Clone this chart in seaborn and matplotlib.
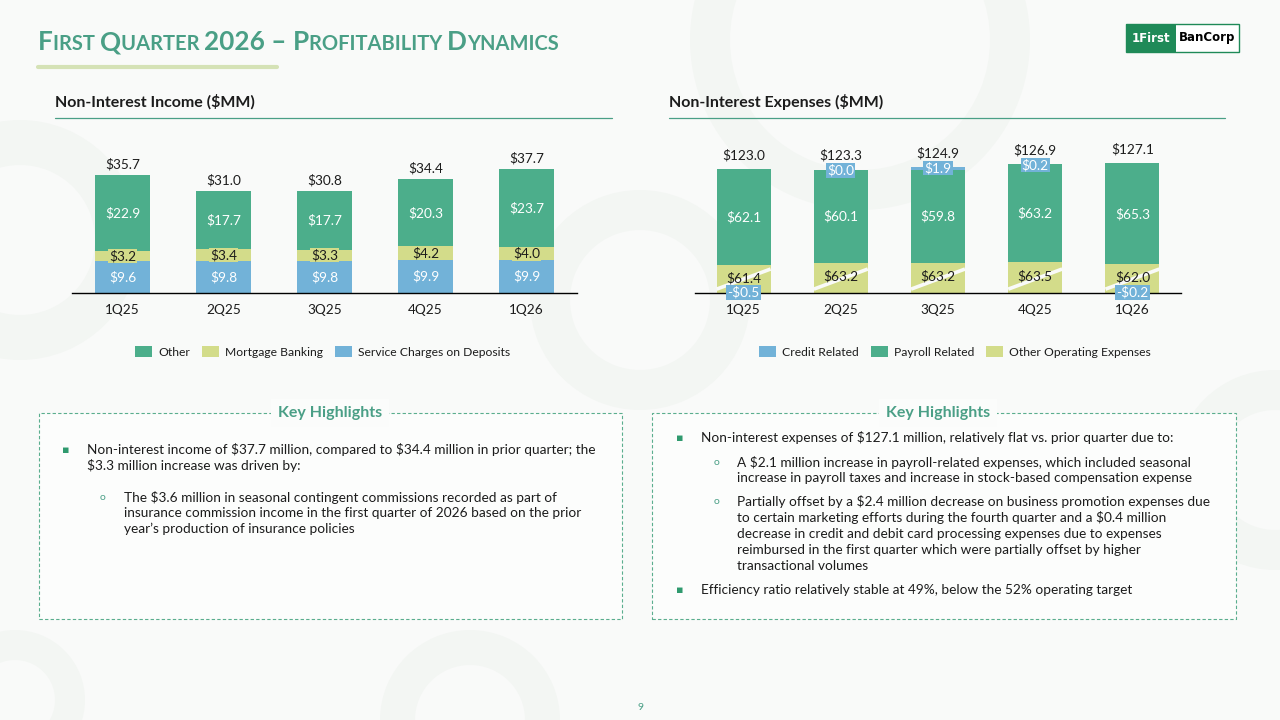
import numpy as np
import matplotlib
matplotlib.use("Agg")
import matplotlib.pyplot as plt
import matplotlib.patches as mpatches
from matplotlib.lines import Line2D
import seaborn as sns

quarters = ["1Q25", "2Q25", "3Q25", "4Q25", "1Q26"]

# Non-interest income ($MM)
service_charges = [9.6, 9.8, 9.8, 9.9, 9.9]
mortgage_banking = [3.2, 3.4, 3.3, 4.2, 4.0]
other_income = [22.9, 17.7, 17.7, 20.3, 23.7]
income_totals = [35.7, 31.0, 30.8, 34.4, 37.7]

# Non-interest expenses ($MM)
other_operating = [61.4, 63.2, 63.2, 63.5, 62.0]
payroll_related = [62.1, 60.1, 59.8, 63.2, 65.3]
credit_related = [-0.5, 0.0, 1.9, 0.2, -0.2]
expense_totals = [123.0, 123.3, 124.9, 126.9, 127.1]

# the expense chart has a broken axis in the bottom segment
BREAK = 43.5

GREEN = "#4cae8b"
YELLOW = "#d3dc8a"
BLUE = "#72b2d8"
TEAL = "#4a9f86"
BG = "#f9faf9"
TXT = "#1c1c1c"

sns.set_theme(style="white")
plt.rcParams["font.family"] = ["Lato", "DejaVu Sans"]
plt.rcParams["text.parse_math"] = False


def fx(x):
    return x / 1280


def fy(y):
    return 1 - y / 720


fig = plt.figure(figsize=(12.8, 7.2), dpi=100, facecolor=BG)

# faint decorative rings in the background
for cx, cy, r, w in [(20, 240, 120, 45), (640, 300, 110, 40), (1275, 470, 100, 40),
                     (15, 700, 70, 30), (470, 720, 90, 35), (860, 40, 170, 40)]:
    ring = mpatches.Annulus((cx / 100, (720 - cy) / 100), r / 100, w / 100,
                            transform=fig.dpi_scale_trans, facecolor="#f3f6f3",
                            edgecolor="none", zorder=-5)
    fig.add_artist(ring)

# ---- title in small caps ----
renderer = fig.canvas.get_renderer()
big, small = 18.8, 14.5
pieces = [("F", big), ("IRST ", small), ("Q", big), ("UARTER ", small), ("2026 \u2013 ", big),
          ("P", big), ("ROFITABILITY ", small), ("D", big), ("YNAMICS", small)]
xpos = fx(38)
for s, size in pieces:
    t = fig.text(xpos, fy(50), s, fontsize=size, color=TEAL, fontweight="bold",
                 ha="left", va="baseline")
    bb = t.get_window_extent(renderer=renderer)
    xpos += bb.width / 1280
fig.add_artist(Line2D([fx(38), fx(277)], [fy(67), fy(67)], color="#d5e2b6", lw=3,
                      transform=fig.transFigure))

# ---- logo ----
fig.add_artist(mpatches.Rectangle((fx(1126), fy(52)), fx(113), 28 / 720, transform=fig.transFigure,
                                  facecolor="white", edgecolor="#1f8a58", lw=1))
fig.add_artist(mpatches.Rectangle((fx(1126), fy(52)), fx(50), 28 / 720, transform=fig.transFigure,
                                  facecolor="#1f8a58", edgecolor="none"))
fig.text(fx(1151), fy(38), "1First", color="white", fontsize=8.5, fontweight="bold",
         family="DejaVu Sans", ha="center", va="center")
fig.text(fx(1207), fy(38), "BanCorp", color="black", fontsize=8.5, fontweight="bold",
         family="DejaVu Sans", ha="center", va="center")

# ---- section headers ----
for x0, x1, label in [(55, 612, "Non-Interest Income ($MM)"), (669, 1225, "Non-Interest Expenses ($MM)")]:
    fig.text(fx(x0), fy(102), label, fontsize=11.5, fontweight="bold", color=TXT, va="center")
    fig.add_artist(Line2D([fx(x0), fx(x1)], [fy(118), fy(118)], color=TEAL, lw=0.9,
                          transform=fig.transFigure))


def style_axis(ax, ymax):
    ax.set_facecolor("none")
    ax.set_xlim(-0.5, 4.5)
    ax.set_ylim(0, ymax)
    ax.set(xlabel="", ylabel="")
    ax.set_yticks([])
    for side in ["top", "left", "right"]:
        ax.spines[side].set_visible(False)
    ax.spines["bottom"].set_color("black")
    ax.spines["bottom"].set_linewidth(1)
    ax.tick_params(axis="x", length=0, pad=8, labelsize=9.8, labelcolor=TXT)


LBL = 9.8

# ---- left chart: non-interest income ----
ax1 = fig.add_axes([fx(72), fy(293), fx(505), 153 / 720])
svc = np.array(service_charges)
mort = np.array(mortgage_banking)
oth = np.array(other_income)
for vals, col in [(svc + mort + oth, GREEN), (svc + mort, YELLOW), (svc, BLUE)]:
    sns.barplot(x=quarters, y=vals, color=col, width=0.55, saturation=1, linewidth=0,
                errorbar=None, ax=ax1)
style_axis(ax1, 153 / 3.3)
for i in range(len(quarters)):
    ax1.text(i, svc[i] / 2, f"${svc[i]:.1f}", ha="center", va="center", color="white", fontsize=LBL)
    ax1.text(i, svc[i] + mort[i] / 2, f"${mort[i]:.1f}", ha="center", va="center", color=TXT,
             fontsize=LBL, bbox=dict(facecolor=YELLOW, edgecolor="none", pad=0.4))
    ax1.text(i, svc[i] + mort[i] + oth[i] / 2, f"${oth[i]:.1f}", ha="center", va="center",
             color="white", fontsize=LBL)
    ax1.annotate(f"${income_totals[i]:.1f}", (i, svc[i] + mort[i] + oth[i]), xytext=(0, 3.5),
                 textcoords="offset points", ha="center", va="bottom", color=TXT, fontsize=LBL)

# ---- right chart: non-interest expenses ----
ax2 = fig.add_axes([fx(695), fy(293), fx(486), 153 / 720])
oo = np.array(other_operating) - BREAK
pay = np.array(payroll_related)
cred = np.array(credit_related)
stack_top = oo + pay + np.clip(cred, 0, None)
for vals, col in [(stack_top, BLUE), (oo + pay, GREEN), (oo, YELLOW)]:
    sns.barplot(x=quarters, y=vals, color=col, width=0.555, saturation=1, linewidth=0,
                errorbar=None, ax=ax2)
style_axis(ax2, 153 / 1.546)
for i in range(len(quarters)):
    # break marker through the truncated bottom segment
    ax2.plot([i - 0.2775, i + 0.2775], [2.5, 15.5], color=BG, lw=2.6,
             solid_capstyle="butt", zorder=3)
    ax2.text(i, oo[i] / 2 + 0.8, f"${other_operating[i]:.1f}", ha="center", va="center",
             color=TXT, fontsize=LBL, zorder=4)
    ax2.text(i, oo[i] + pay[i] / 2, f"${pay[i]:.1f}", ha="center", va="center",
             color="white", fontsize=LBL, zorder=4)
    if cred[i] < 0:
        ypos, lab = 0.4, f"-${abs(cred[i]):.1f}"
    else:
        ypos, lab = stack_top[i] - 0.6, f"${cred[i]:.1f}"
    ax2.text(i, ypos, lab, ha="center", va="center", color="white", fontsize=LBL, zorder=5,
             bbox=dict(facecolor=BLUE, edgecolor="none", pad=0.8), clip_on=False)
    ax2.annotate(f"${expense_totals[i]:.1f}", (i, stack_top[i]), xytext=(0, 5.5),
                 textcoords="offset points", ha="center", va="bottom", color=TXT, fontsize=LBL)

# ---- legends ----
def patch(c):
    return mpatches.Patch(facecolor=c, edgecolor="none")


leg_kw = dict(loc="center", ncol=3, frameon=False, fontsize=8.7, handlelength=1.4,
              handleheight=1.05, handletextpad=0.5, columnspacing=1.0, labelcolor=TXT)
fig.legend([patch(GREEN), patch(YELLOW), patch(BLUE)],
           ["Other", "Mortgage Banking", "Service Charges on Deposits"],
           bbox_to_anchor=(fx(323), fy(352)), **leg_kw)
fig.legend([patch(BLUE), patch(GREEN), patch(YELLOW)],
           ["Credit Related", "Payroll Related", "Other Operating Expenses"],
           bbox_to_anchor=(fx(955), fy(352)), **leg_kw)

# ---- key highlight boxes ----
for x0, x1, cx in [(39, 622, 330), (652, 1236, 938)]:
    fig.add_artist(mpatches.Rectangle((fx(x0), fy(619)), fx(x1 - x0), 206 / 720,
                                      transform=fig.transFigure, facecolor="#fcfdfc",
                                      edgecolor="#5aae8e", lw=0.8, linestyle=(0, (3, 2)), zorder=1))
    fig.text(fx(cx), fy(413), "Key Highlights", ha="center", va="center", color=TEAL,
             fontsize=11.5, fontweight="bold", zorder=3,
             bbox=dict(facecolor="#fbfcfb", edgecolor="none", pad=5))

left_lines = [
    (0, 450, "Non-interest income of $37.7 million, compared to $34.4 million in prior quarter; the"),
    (0, 466, "$3.3 million increase was driven by:"),
    (1, 497, "The $3.6 million in seasonal contingent commissions recorded as part of"),
    (1, 513, "insurance commission income in the first quarter of 2026 based on the prior"),
    (1, 529, "year\u2019s production of insurance policies"),
]
right_lines = [
    (0, 438, "Non-interest expenses of $127.1 million, relatively flat vs. prior quarter due to:"),
    (1, 462, "A $2.1 million increase in payroll-related expenses, which included seasonal"),
    (1, 478, "increase in payroll taxes and increase in stock-based compensation expense"),
    (1, 502, "Partially offset by a $2.4 million decrease on business promotion expenses due"),
    (1, 518, "to certain marketing efforts during the fourth quarter and a $0.4 million"),
    (1, 534, "decrease in credit and debit card processing expenses due to expenses"),
    (1, 550, "reimbursed in the first quarter which were partially offset by higher"),
    (1, 566, "transactional volumes"),
    (0, 590, "Efficiency ratio relatively stable at 49%, below the 52% operating target"),
]
bullet_starts = {450, 497, 438, 462, 502, 590}


def write_lines(lines, bx, tx, sbx, stx):
    for level, y, s in lines:
        x = tx if level == 0 else stx
        fig.text(fx(x), fy(y), s, fontsize=9.8, color=TXT, va="center", zorder=3)
        if y in bullet_starts:
            if level == 0:
                fig.text(fx(bx), fy(y), "\u25aa", fontsize=8, color="#2f9a6e", va="center",
                         ha="center", family="DejaVu Sans", zorder=3)
            else:
                fig.text(fx(sbx), fy(y), "o", fontsize=7.5, color=TEAL, va="center",
                         ha="center", zorder=3)


write_lines(left_lines, 66, 87, 102, 124)
write_lines(right_lines, 680, 701, 717, 737)

fig.text(0.5, fy(707), "9", ha="center", va="center", fontsize=7.5, color=TEAL)

fig.savefig("out.png", dpi=100, facecolor=BG)
